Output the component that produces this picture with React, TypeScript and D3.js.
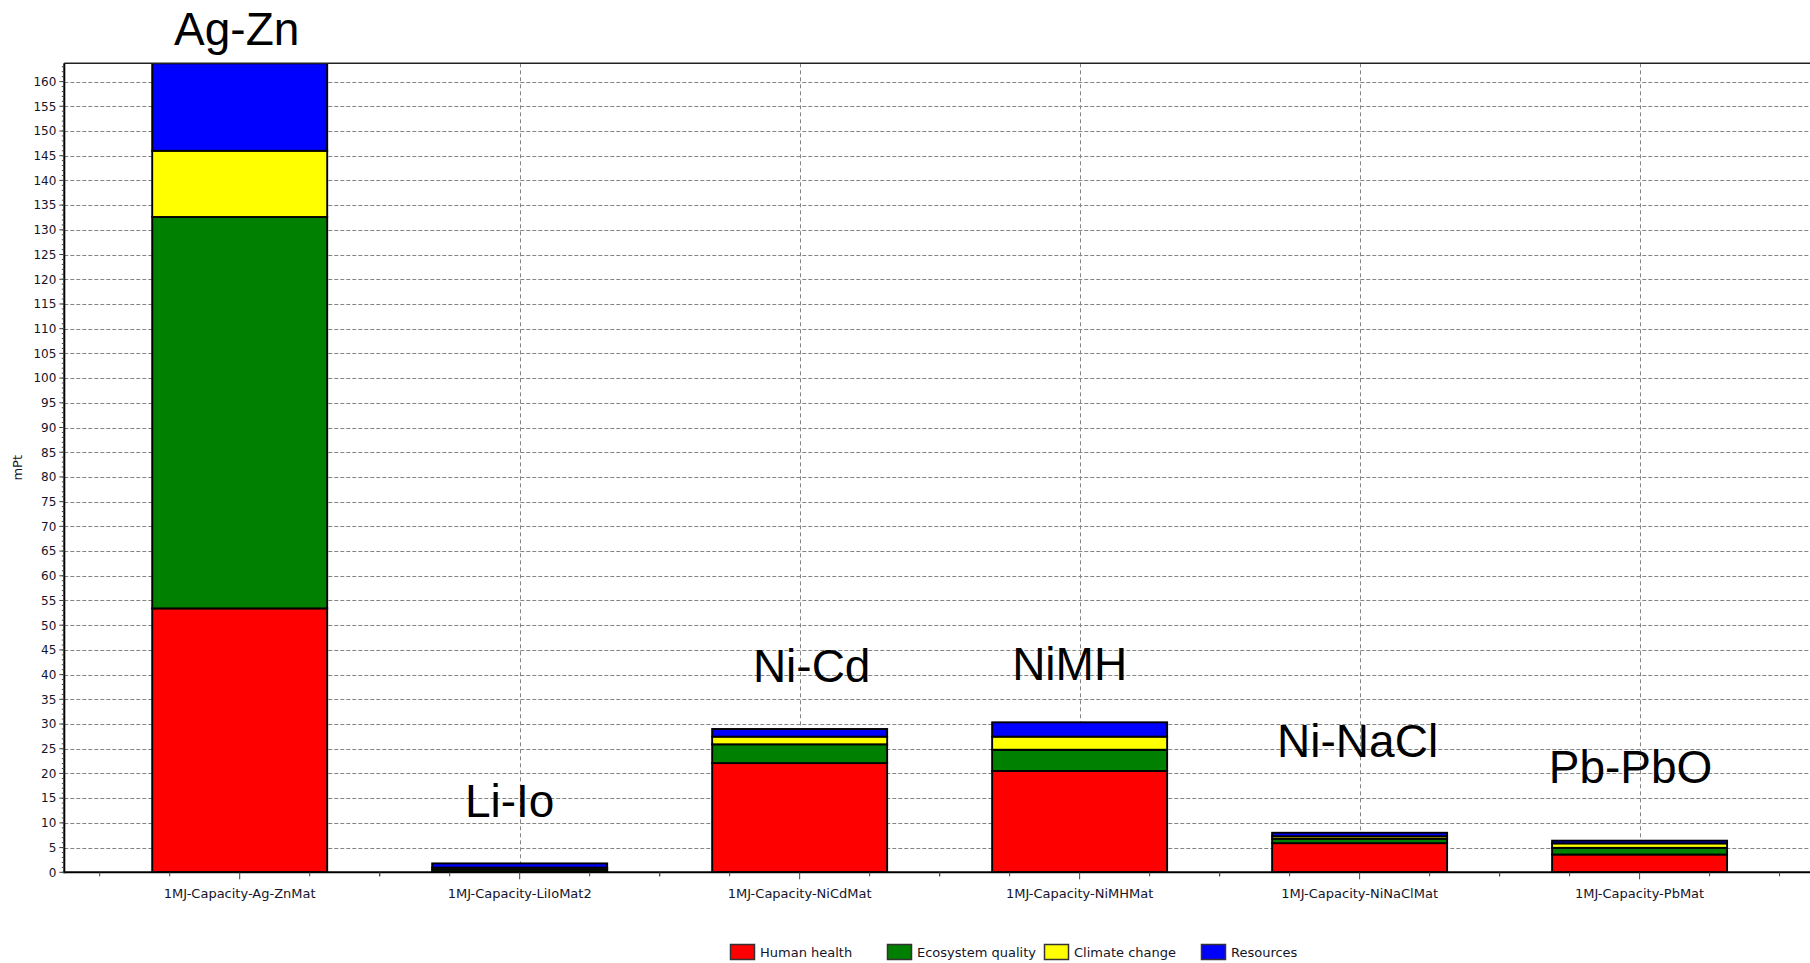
import * as d3 from "d3";

const categories = [
  "1MJ-Capacity-Ag-ZnMat",
  "1MJ-Capacity-LiIoMat2",
  "1MJ-Capacity-NiCdMat",
  "1MJ-Capacity-NiMHMat",
  "1MJ-Capacity-NiNaClMat",
  "1MJ-Capacity-PbMat",
];

const seriesNames = ["Human health", "Ecosystem quality", "Climate change", "Resources"];
const seriesColors = ["#ff0000", "#008000", "#ffff00", "#0000ff"];

// mPt per damage category
const humanHealth = [53.4, 0.1, 22.1, 20.5, 5.9, 3.6];
const ecosystemQuality = [79.2, 0.45, 3.8, 4.3, 0.9, 1.35];
const climateChange = [13.4, 0.4, 1.55, 2.65, 0.5, 0.9];
const resources = [17.7, 0.85, 1.55, 2.9, 0.7, 0.55];

const yTicks = d3.range(0, 161, 5);

// battery type labels drawn over the chart (value = baseline height in mPt)
const annotLabels = ["Ag-Zn", "Li-Io", "Ni-Cd", "NiMH", "Ni-NaCl", "Pb-PbO"];
const annotValues = [167.4, 11.25, 38.5, 38.9, 23.4, 18.0];
const annotShift = [-3, -10, 12, -10, -2, -9];

const W = 1810;
const H = 963;
const plot = { left: 64.3, right: 1815, top: 63.3, bottom: 872.3 };
const tickFont = "'DejaVu Sans', Tahoma, sans-serif";
const textColor = "#14142a";

export default function App() {
  const rows = categories.map((c, i) => ({
    cat: c,
    "Human health": humanHealth[i],
    "Ecosystem quality": ecosystemQuality[i],
    "Climate change": climateChange[i],
    Resources: resources[i],
  }));
  const series = d3.stack<any>().keys(seriesNames)(rows);
  const yMax = d3.max(series[series.length - 1], (d) => d[1]) ?? 0;

  const x = d3
    .scaleBand<string>()
    .domain(categories)
    .range([plot.left, plot.right])
    .paddingInner(0.375)
    .paddingOuter(0.314);
  const y = d3.scaleLinear().domain([0, yMax]).range([plot.bottom, plot.top]);
  const cx = (c: string) => (x(c) ?? 0) + x.bandwidth() / 2;
  const quarter = x.step() / 4;

  const minorX = categories.flatMap((c) => [-2, -1, 1, 2].map((k) => cx(c) + k * quarter));
  const minorY = d3.range(0, Math.floor(yMax) + 1, 1);

  return (
    <svg
      width={W}
      height={H}
      style={{ position: "absolute", left: 0, top: 0, display: "block", background: "#fff" }}
    >
      <defs>
        <clipPath id="plotClip">
          <rect x={plot.left} y={plot.top} width={W - plot.left} height={plot.bottom - plot.top} />
        </clipPath>
      </defs>

      {/* grid */}
      <g stroke="#858585" strokeWidth={1}>
        {yTicks.slice(1).map((t) => (
          <line key={t} x1={plot.left} x2={W} y1={Math.round(y(t)) + 0.5} y2={Math.round(y(t)) + 0.5} strokeDasharray="4,2" />
        ))}
        {categories.map((c) => (
          <line key={c} x1={Math.round(cx(c)) + 0.5} x2={Math.round(cx(c)) + 0.5} y1={plot.top} y2={plot.bottom} strokeDasharray="4,3" />
        ))}
      </g>

      {/* stacked bars */}
      <g clipPath="url(#plotClip)">
        {series.map((s, si) => (
          <g key={s.key} fill={seriesColors[si]} stroke="#000" strokeWidth={1.9}>
            {s.map((d, i) => (
              <rect
                key={i}
                x={x(categories[i])}
                y={y(d[1])}
                width={x.bandwidth()}
                height={Math.max(0, y(d[0]) - y(d[1]))}
              />
            ))}
          </g>
        ))}
      </g>

      {/* frame */}
      <line x1={plot.left} x2={W} y1={plot.top} y2={plot.top} stroke="#222" strokeWidth={1.5} />
      <line x1={plot.left} x2={plot.left} y1={plot.top} y2={plot.bottom + 1} stroke="#000" strokeWidth={2} />
      <line x1={plot.left - 1} x2={W} y1={plot.bottom} y2={plot.bottom} stroke="#000" strokeWidth={2} />

      {/* y axis */}
      <g stroke="#444" strokeWidth={1}>
        {minorY.map((t) => (
          <line key={t} x1={plot.left - 2.5} x2={plot.left} y1={y(t)} y2={y(t)} />
        ))}
        {yTicks.map((t) => (
          <line key={"M" + t} x1={plot.left - 5} x2={plot.left} y1={y(t)} y2={y(t)} />
        ))}
      </g>
      <g fontFamily={tickFont} fontSize={12} fill={textColor} textAnchor="end">
        {yTicks.map((t) => (
          <text key={t} x={plot.left - 8} y={y(t)} dy="0.36em">
            {t}
          </text>
        ))}
      </g>
      <text
        transform={`translate(22,${(plot.top + plot.bottom) / 2}) rotate(-90)`}
        textAnchor="middle"
        fontFamily={tickFont}
        fontSize={13}
        fill={textColor}
      >
        mPt
      </text>

      {/* x axis */}
      <g stroke="#444" strokeWidth={1}>
        {minorX.map((v, i) => (
          <line key={i} x1={v} x2={v} y1={plot.bottom} y2={plot.bottom + 4} />
        ))}
        {categories.map((c) => (
          <line key={c} x1={cx(c)} x2={cx(c)} y1={plot.bottom} y2={plot.bottom + 7} />
        ))}
      </g>
      <g fontFamily={tickFont} fontSize={13} fill={textColor} textAnchor="middle">
        {categories.map((c) => (
          <text key={c} x={cx(c)} y={898}>
            {c}
          </text>
        ))}
      </g>

      {/* annotations */}
      <g fontFamily="'Liberation Sans', Arial, sans-serif" fontSize={46} fill="#000" textAnchor="middle">
        {annotLabels.map((a, i) => (
          <text key={a} x={cx(categories[i]) + annotShift[i]} y={y(annotValues[i])}>
            {a}
          </text>
        ))}
      </g>

      {/* legend */}
      <g fontFamily={tickFont} fontSize={13} fill={textColor}>
        {seriesNames.map((n, i) => (
          <g key={n} transform={`translate(${730 + i * 157},944)`}>
            <rect x={0.5} y={0.5} width={24} height={15} fill={seriesColors[i]} stroke="#333" strokeWidth={1.5} />
            <text x={30} y={8} dy="0.36em">
              {n}
            </text>
          </g>
        ))}
      </g>
    </svg>
  );
}
